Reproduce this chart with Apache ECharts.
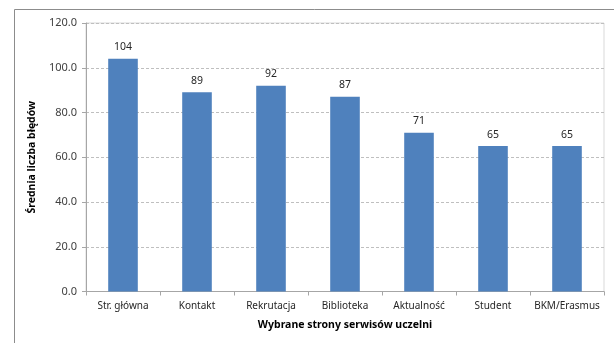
<!DOCTYPE html>
<html>
<head>
<meta charset="utf-8">
<script src="https://cdn.jsdelivr.net/npm/echarts@6/dist/echarts.min.js"></script>
<style>
  html, body { margin: 0; padding: 0; background: #ffffff; }
  #chart { width: 614px; height: 343px; }
</style>
</head>
<body>
<div id="chart"></div>
<script>
// Pages of the university websites and the mean number of errors found on each
const categories = ['Str. główna', 'Kontakt', 'Rekrutacja', 'Biblioteka', 'Aktualność', 'Student', 'BKM/Erasmus'];
const errorCounts = [104, 89, 92, 87, 71, 65, 65];
const yTicks = [0, 20, 40, 60, 80, 100, 120];

const yAxisTitle = 'Średnia liczba błędów';
const xAxisTitle = 'Wybrane strony serwisów uczelni';

const font = '"Noto Sans", "DejaVu Sans", sans-serif';
const chart = echarts.init(document.getElementById('chart'), null, { renderer: 'canvas' });

chart.setOption({
  animation: false,
  backgroundColor: '#ffffff',
  textStyle: { fontFamily: font },
  grid: { left: 86, right: 10, top: 23, bottom: 51.5, show: true, borderColor: '#d9d9d9', borderWidth: 1 },
  graphic: [
    {
      type: 'polyline',
      shape: { points: [[14.5, 343], [14.5, 9.5], [614, 9.5]] },
      style: { stroke: '#8c8c8c', lineWidth: 1, fill: null }
    }
  ],
  xAxis: {
    type: 'category',
    data: categories,
    name: xAxisTitle,
    nameLocation: 'middle',
    nameGap: 28,
    nameTextStyle: { fontFamily: font, fontSize: 10.5, fontWeight: 'bold', color: '#000000' },
    axisLine: { lineStyle: { color: '#a6a6a6', width: 1 } },
    axisTick: { show: true, length: 4, lineStyle: { color: '#a6a6a6' } },
    axisLabel: { fontFamily: font, fontSize: 10, color: '#262626', margin: 10, interval: 0 }
  },
  yAxis: {
    type: 'value',
    min: yTicks[0],
    max: yTicks[yTicks.length - 1],
    interval: yTicks[1] - yTicks[0],
    name: yAxisTitle,
    nameLocation: 'middle',
    nameGap: 45,
    nameRotate: 90,
    nameTextStyle: { fontFamily: font, fontSize: 10.5, fontWeight: 'bold', color: '#000000' },
    axisLine: { show: true, lineStyle: { color: '#a6a6a6', width: 1 } },
    axisTick: { show: true, length: 4, lineStyle: { color: '#a6a6a6' } },
    axisLabel: {
      fontFamily: font, fontSize: 11, color: '#404040', margin: 9,
      formatter: v => v.toFixed(1)
    },
    splitLine: { show: true, lineStyle: { color: '#bfbfbf', type: [3, 2], width: 1 } }
  },
  series: [
    {
      type: 'bar',
      data: errorCounts,
      barWidth: '40%',
      itemStyle: { color: '#4f81bd' },
      label: {
        show: true,
        position: 'top',
        distance: 6,
        fontFamily: font,
        fontSize: 10.5,
        color: '#262626'
      }
    }
  ]
});
</script>
</body>
</html>
